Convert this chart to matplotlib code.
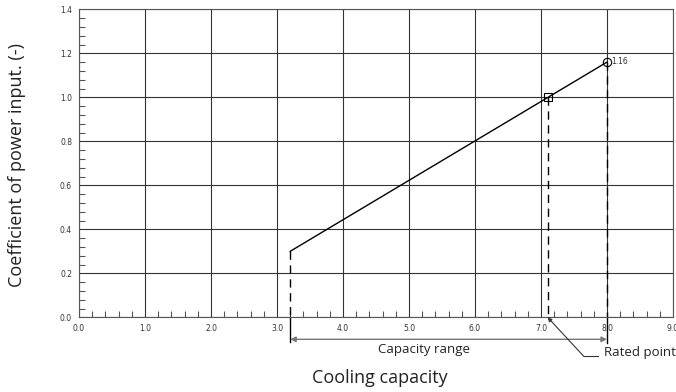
import matplotlib
matplotlib.use("Agg")
import matplotlib.pyplot as plt
import numpy as np

# Data
cap_range = [3.2, 8.0]          # capacity range (x)
coef_range = [0.3, 1.16]        # coefficient at ends of range
rated_x = 7.1
rated_y = 1.0
max_label = "1.16"
x_ticks = [0, 1, 2, 3, 4, 5, 6, 7, 8, 9]
y_ticks = [0.0, 0.2, 0.4, 0.6, 0.8, 1.0, 1.2, 1.4]

fig = plt.figure(figsize=(6.76, 3.92), dpi=100)
ax = fig.add_axes([79/676, (392-317.3)/392, (673-79)/676, (317.3-9.3)/392])

ax.set_xlim(0, 9)
ax.set_ylim(0, 1.4)
ax.set_xticks(x_ticks)
ax.set_xticklabels([f"{v:.1f}" for v in x_ticks])
ax.set_yticks(y_ticks)
ax.set_yticklabels([f"{v:.1f}" for v in y_ticks])
ax.set_xticks(np.arange(0, 9.001, 0.2), minor=True)
ax.set_yticks(np.arange(0, 1.4001, 0.04), minor=True)
ax.tick_params(which="both", direction="in", length=4, width=0.8, color="#555555",
               labelsize=5.5, labelcolor="#333333", pad=5)
ax.tick_params(which="major", length=0)
ax.grid(True, which="major", color="#333333", lw=0.8)
for s in ax.spines.values():
    s.set_color("#555555")
    s.set_linewidth(0.8)

# main line
ax.plot(cap_range, coef_range, color="black", lw=1)
# markers
ax.plot([rated_x], [rated_y], marker="s", ms=6, mfc="none", mec="black", mew=0.8)
ax.plot([cap_range[1]], [coef_range[1]], marker="o", ms=6, mfc="none", mec="black", mew=0.8)
ax.text(cap_range[1] + 0.07, coef_range[1] + 0.005, max_label, fontsize=5.5,
        color="#333333", va="center", ha="left")

# dashed drops
dash = (0, (6, 4))
ax.plot([cap_range[0], cap_range[0]], [coef_range[0], 0], color="black", lw=1, linestyle=dash)
ax.plot([rated_x, rated_x], [rated_y, 0], color="black", lw=1, linestyle=dash)
ax.plot([cap_range[1], cap_range[1]], [coef_range[1], 0], color="black", lw=1, linestyle=dash)
# extension below axis
ax.plot([cap_range[0], cap_range[0]], [0, -0.11], color="black", lw=1, clip_on=False)
ax.plot([cap_range[1], cap_range[1]], [0, -0.115], color="black", lw=1, clip_on=False)

# capacity range arrow
ax.annotate("", xy=(cap_range[0], -0.1), xytext=(cap_range[1], -0.1),
            arrowprops=dict(arrowstyle="<|-|>", color="#777777", lw=1,
                            mutation_scale=8, shrinkA=0, shrinkB=0),
            annotation_clip=False)
ax.text(5.22, -0.145, "Capacity range", fontsize=9.5, family="Open Sans",
        ha="center", va="center", color="#222222", clip_on=False)

# rated point leader
ax.annotate("", xy=(rated_x, 0.0), xytext=(7.65, -0.178),
            arrowprops=dict(arrowstyle="-|>", color="#333333", lw=0.8,
                            mutation_scale=6, shrinkA=0, shrinkB=0),
            annotation_clip=False)
ax.plot([7.65, 7.87], [-0.178, -0.178], color="#333333", lw=0.8, clip_on=False)
ax.text(7.96, -0.16, "Rated point", fontsize=9.5, family="Open Sans",
        ha="left", va="center", color="#222222", clip_on=False)

fig.text(380/676, 1 - 378/392, "Cooling capacity", fontsize=13, family="Open Sans",
         ha="center", va="center", color="#222222")
fig.text(17/676, 1 - 165/392, "Coefficient of power input. (-)", fontsize=13,
         family="Open Sans", ha="center", va="center", rotation=90, color="#222222")

fig.savefig("out.png", dpi=100)
